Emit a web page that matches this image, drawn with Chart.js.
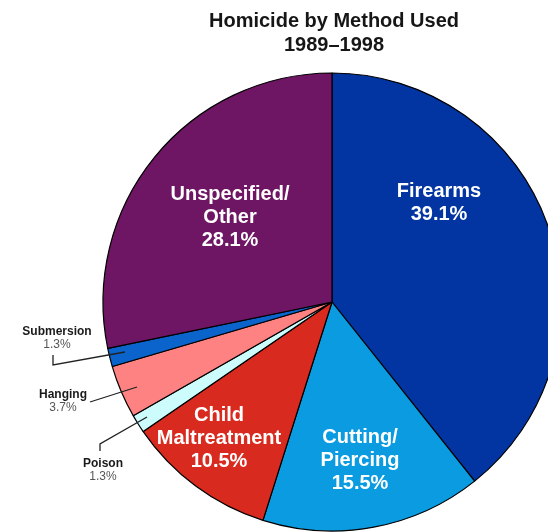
<!DOCTYPE html>
<html lang="en">
  <head>
    <meta charset="UTF-8" />
    <title>Homicide by Method Used</title>
    <script src="https://cdn.jsdelivr.net/npm/chart.js@4.4.1/dist/chart.umd.min.js"></script>
    <style>
      html,
      body {
        margin: 0;
        padding: 0;
        background: #fff;
        overflow: hidden;
      }
      .chart-container {
        position: relative;
        width: 548px;
        height: 532px;
      }
    </style>
  </head>
  <body>
    <div class="chart-container">
      <canvas id="chart"></canvas>
    </div>
    <script>
      // data
      const titleLines = ["Homicide by Method Used", "1989\u20131998"];
      const categories = [
        "Firearms",
        "Cutting/Piercing",
        "Child Maltreatment",
        "Poison",
        "Hanging",
        "Submersion",
        "Unspecified/Other",
      ];
      const percents = [39.1, 15.5, 10.5, 1.3, 3.7, 1.3, 28.1];
      // how each name is broken on the chart
      const nameLines = [
        ["Firearms"],
        ["Cutting/", "Piercing"],
        ["Child", "Maltreatment"],
        ["Poison"],
        ["Hanging"],
        ["Submersion"],
        ["Unspecified/", "Other"],
      ];
      const sliceColors = [
        "#0234a2",
        "#0a9be0",
        "#d82a1e",
        "#ccfcfc",
        "#ff8282",
        "#0a64cc",
        "#6e1664",
      ];

      // label placement, offsets from the pie centre
      const insidePos = {
        0: { dx: 107, dy: -101 },
        1: { dx: 28, dy: 157 },
        2: { dx: -113, dy: 135 },
        6: { dx: -102, dy: -86 },
      };
      const outsidePos = {
        5: { dx: -275, dy: 29, line: [[-279, 53], [-279, 63], [-207, 50]] },
        4: { dx: -269, dy: 92, line: [[-242, 100], [-195, 85]] },
        3: { dx: -229, dy: 161, line: [[-232, 149], [-232, 142], [-185, 115]] },
      };

      const pct = (v) => v.toFixed(1) + "%";

      const labelPlugin = {
        id: "sliceLabels",
        afterDatasetsDraw(chart) {
          const ctx = chart.ctx;
          const arc = chart.getDatasetMeta(0).data[0];
          const { x: cx, y: cy } = arc.getProps(["x", "y"], true);

          ctx.save();
          ctx.textAlign = "center";
          ctx.textBaseline = "alphabetic";

          // title
          ctx.fillStyle = "#161616";
          ctx.font = "bold 20px 'Liberation Sans', Arial, sans-serif";
          ctx.fillText(titleLines[0], 334, 27);
          ctx.fillText(titleLines[1], 334, 50.5);

          // labels inside the big slices
          ctx.fillStyle = "#fff";
          Object.keys(insidePos).forEach((k) => {
            const i = Number(k);
            const lines = nameLines[i].concat([pct(percents[i])]);
            const lh = 23;
            const top = cy + insidePos[i].dy - ((lines.length - 1) * lh) / 2;
            lines.forEach((t, j) => {
              ctx.fillText(t, cx + insidePos[i].dx, top + j * lh + 7);
            });
          });

          // callouts for the thin slices
          Object.keys(outsidePos).forEach((k) => {
            const i = Number(k);
            const p = outsidePos[i];
            ctx.strokeStyle = "#222";
            ctx.lineWidth = 1.3;
            ctx.beginPath();
            p.line.forEach(([lx, ly], j) => {
              if (j === 0) ctx.moveTo(cx + lx, cy + ly);
              else ctx.lineTo(cx + lx, cy + ly);
            });
            ctx.stroke();

            ctx.fillStyle = "#1a1a1a";
            ctx.font = "bold 12px 'Liberation Sans', Arial, sans-serif";
            ctx.fillText(nameLines[i][0], cx + p.dx, cy + p.dy + 4);
            ctx.fillStyle = "#555";
            ctx.font = "12px 'Liberation Sans', Arial, sans-serif";
            ctx.fillText(pct(percents[i]), cx + p.dx, cy + p.dy + 17);
          });
          ctx.restore();
        },
      };

      const ctx = document.getElementById("chart").getContext("2d");
      new Chart(ctx, {
        type: "pie",
        data: {
          labels: categories,
          datasets: [
            {
              data: percents,
              backgroundColor: sliceColors,
              borderColor: "#000",
              borderWidth: 1.2,
              clip: false,
            },
          ],
        },
        options: {
          responsive: true,
          maintainAspectRatio: false,
          animation: false,
          radius: 229,
          layout: {
            padding: { left: 116, right: 0, top: 72, bottom: 0 },
          },
          plugins: {
            legend: { display: false },
            tooltip: { enabled: false },
          },
        },
        plugins: [labelPlugin],
      });
    </script>
  </body>
</html>
